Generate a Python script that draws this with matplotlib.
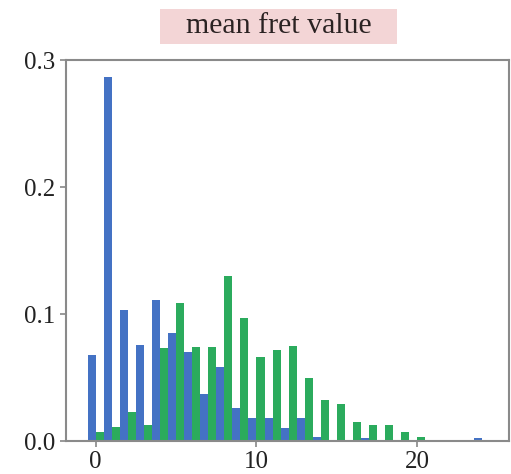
import numpy as np
import matplotlib
matplotlib.use("Agg")
import matplotlib.pyplot as plt
from matplotlib.patches import Rectangle

# histogram of mean fret value, two groups, one bin per integer
bins = list(range(25))
blue_vals = [0.068, 0.287, 0.103, 0.076, 0.111, 0.085, 0.070, 0.037, 0.058, 0.026,
             0.018, 0.018, 0.010, 0.018, 0.003, 0.001, 0.001, 0.002, 0.0, 0.0,
             0.0, 0.0, 0.0, 0.0, 0.002]
green_vals = [0.007, 0.011, 0.023, 0.013, 0.073, 0.109, 0.074, 0.074, 0.130, 0.097,
              0.066, 0.072, 0.075, 0.050, 0.032, 0.029, 0.015, 0.013, 0.013, 0.007,
              0.003, 0.001, 0.001, 0.0, 0.0]
x_ticks = [0, 10, 20]
y_ticks = [0.0, 0.1, 0.2, 0.3]
title = "mean fret value"

plt.rcParams["font.family"] = ["Liberation Serif", "DejaVu Serif"]

fig = plt.figure(figsize=(5.11, 4.74), dpi=100)
ax = fig.add_axes([0.129, 0.0696, 0.867, 0.8034])

x = np.array(bins)
ax.bar(x - 0.25, blue_vals, width=0.5, color="#4472C4", linewidth=0)
ax.bar(x + 0.25, green_vals, width=0.5, color="#2BAB5D", linewidth=0)

ax.set_xlim(-1.85, 25.7)
ax.set_ylim(0, 0.3)
ax.set_xticks(x_ticks)
ax.set_yticks(y_ticks)
ax.set_yticklabels([f"{v:.1f}" for v in y_ticks])
ax.tick_params(labelsize=18, colors="#888888", labelcolor="#222222",
               length=4, width=1.2)
for s in ax.spines.values():
    s.set_color("#8a8a8a")
    s.set_linewidth(1.5)

# pink title box
fig.patches.append(Rectangle((160 / 511, 1 - 44 / 474), 237 / 511, 35 / 474,
                             transform=fig.transFigure, facecolor="#F3D5D6",
                             edgecolor="none", zorder=0))
fig.text(279 / 511, 1 - 26 / 474, title, ha="center", va="center",
         fontsize=21.5, color="#2a2222")

fig.savefig("out.png", dpi=100)
